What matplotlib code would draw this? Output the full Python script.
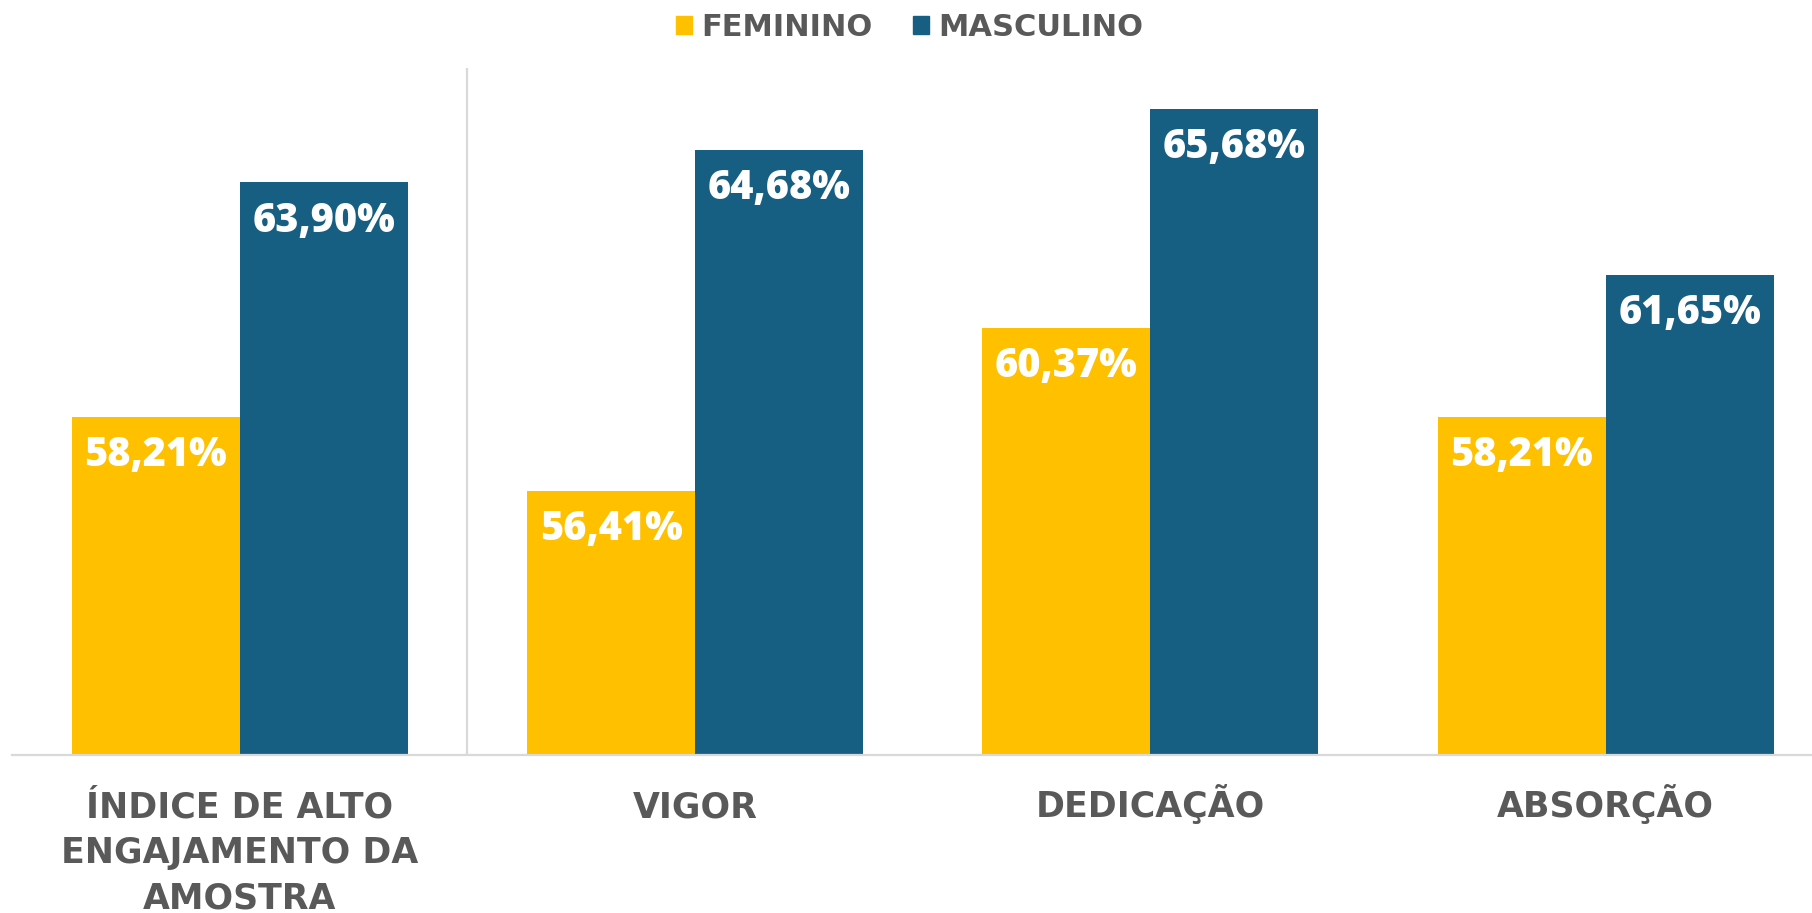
import matplotlib.pyplot as plt
from matplotlib.patches import Patch
import matplotlib.transforms as mtransforms
import numpy as np

categorias = ['ÍNDICE DE ALTO\nENGAJAMENTO DA\nAMOSTRA', 'VIGOR', 'DEDICAÇÃO', 'ABSORÇÃO']
feminino = [58.21, 56.41, 60.37, 58.21]
masculino = [63.90, 64.68, 65.68, 61.65]
series = ['FEMININO', 'MASCULINO']

amarelo = '#FFC000'
azul = '#175F82'
cinza = '#595959'
linha = '#D9D9D9'

fig = plt.figure(figsize=(18.12, 9.13), dpi=100)
ax = fig.add_axes([12/1812, (913-755)/913, 1 - 12/1812, (755-68)/913])

x = np.arange(len(categorias))
w = 0.369
b1 = ax.bar(x - w/2, feminino, w, color=amarelo)
b2 = ax.bar(x + w/2, masculino, w, color=azul)

def fmt(v):
    return f'{v:.2f}%'.replace('.', ',')

for bars, vals in [(b1, feminino), (b2, masculino)]:
    for r, v in zip(bars, vals):
        ax.annotate(fmt(v), (r.get_x() + r.get_width()/2, v), xytext=(0, -28),
                    textcoords='offset points', ha='center', va='center',
                    color='white', fontsize=28.5, fontweight=800, family='Open Sans')

ax.set_ylim(50, 66.67)
ax.set_xlim(-0.5, 3.453)
ax.axvline(0.5, color=linha, lw=1.6)

for s in ['top', 'right', 'left']:
    ax.spines[s].set_visible(False)
ax.spines['bottom'].set_color(linha)
ax.spines['bottom'].set_linewidth(1.6)
ax.set_yticks([])
ax.set_xticks([])

# category labels, line by line (baseline below the axis)
trans = mtransforms.blended_transform_factory(ax.transData, ax.transAxes)
for xi, cat in zip(x, categorias):
    for k, txt in enumerate(cat.split('\n')):
        ax.annotate(txt, (xi, 0), xycoords=trans, xytext=(0, -(62 + 45.5*k)*0.72),
                    textcoords='offset points', ha='center', va='baseline',
                    fontsize=25, fontweight='bold', color=cinza, family='DejaVu Sans',
                    annotation_clip=False)

handles = [Patch(color=amarelo, label=series[0]), Patch(color=azul, label=series[1])]
fig.legend(handles=handles, loc='center', bbox_to_anchor=(0.502, 0.970), ncol=2,
           frameon=False, handlelength=0.55, handleheight=0.55, handletextpad=0.3,
           columnspacing=1.3, prop={'family': 'DejaVu Sans', 'weight': 'bold', 'size': 22},
           labelcolor=cinza)

fig.savefig('out.png', dpi=100)
